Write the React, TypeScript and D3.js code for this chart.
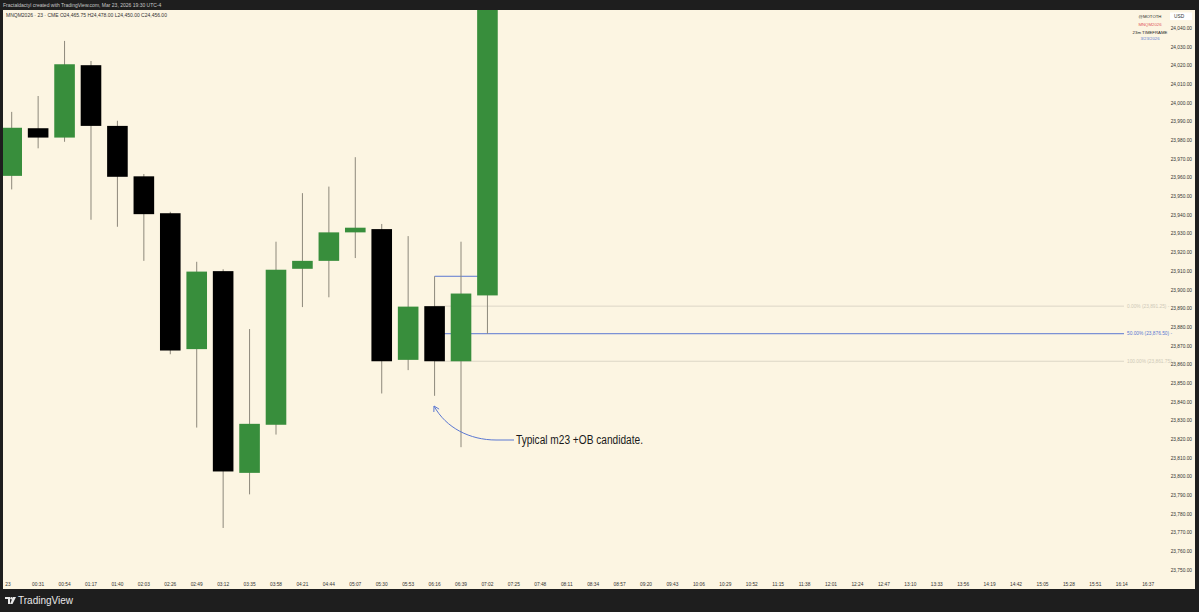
import React from "react";
import * as d3 from "d3";

const W = 1199;
const H = 612;

// Candle data (23m NQ futures)
const timeLabels = [
  "23", "00:31", "00:54", "01:17", "01:40", "02:03", "02:26", "02:49", "03:12", "03:35",
  "03:58", "04:21", "04:44", "05:07", "05:30", "05:53", "06:16", "06:39", "07:02", "07:25",
  "07:48", "08:11", "08:34", "08:57", "09:20", "09:43", "10:06", "10:29", "10:52", "11:15",
  "11:38", "12:01", "12:24", "12:47", "13:10", "13:33", "13:56", "14:19", "14:42", "15:05",
  "15:28", "15:51", "16:14", "16:37",
];
const opens = [
  23961.0, 23986.5, 23981.5, 24020.25, 23987.75, 23960.75, 23941.0, 23868.25, 23910.0, 23802.0,
  23827.75, 23911.25, 23915.5, 23930.75, 23932.5, 23862.5, 23891.25, 23861.75, 23897.0,
];
const highs = [
  23995.25, 24003.75, 24033.25, 24022.5, 23990.5, 23962.0, 23941.75, 23915.0, 23911.0, 23879.0,
  23925.75, 23951.75, 23955.25, 23971.0, 23935.25, 23928.75, 23907.25, 23925.75, 24120.0,
];
const lows = [
  23953.75, 23975.75, 23979.25, 23937.5, 23933.75, 23915.5, 23865.5, 23826.25, 23772.5, 23790.5,
  23822.5, 23890.75, 23896.0, 23917.0, 23844.5, 23857.0, 23843.25, 23815.75, 23876.5,
];
const closes = [
  23986.75, 23981.5, 24020.75, 23987.75, 23960.5, 23940.5, 23867.5, 23909.75, 23802.75, 23828.25,
  23910.75, 23915.5, 23930.75, 23933.25, 23861.75, 23891.0, 23861.75, 23898.0, 24105.0,
];

const priceTicks = [
  23750, 23760, 23770, 23780, 23790, 23800, 23810, 23820, 23830, 23840, 23850, 23860, 23870,
  23880, 23890, 23900, 23910, 23920, 23930, 23940, 23950, 23960, 23970, 23980, 23990, 24000,
  24010, 24020, 24030, 24040,
];

const fibLabels = ["0.00%", "50.00%", "100.00%"];
const fibPrices = [23891.25, 23876.5, 23861.75];
const boxTopPrice = 23907.25;

const legendLines = ["@MOTOTH", "MNQM2026", "23m TIMEFRAME", "3/23/2026"];

export default function App() {
  const paneL = 3, paneR = 1195, paneT = 10, paneB = 589;
  const y = d3.scaleLinear().domain([23750, 24040]).range([570, 28.3]);
  const x = d3.scaleLinear().domain([0, 43]).range([11.7, 1148.2]);
  const bw = 20.6;
  const fmt = d3.format(",.2f");

  const green = "#388e3c";
  const black = "#000000";
  const wick = "#8d887b";
  const blue = "#5b78d2";
  const bg = "#fcf5e2";
  const frame = "#1e1e1e";
  const font = "'Liberation Sans', Arial, sans-serif";

  const fibStartX = x(16);
  const fibEndX = 1124;

  // annotation arrow
  const tipX = 434, tipY = 406;
  const arrowPath = `M 514 440 L 496 440 C 470 440, 446 428, ${tipX} ${tipY}`;
  const dirAngle = Math.atan2(tipY - 428, tipX - 446);
  const armLen = 6;
  const arm = (s: number) => {
    const a = dirAngle + Math.PI + s * (Math.PI / 6);
    return `${tipX + armLen * Math.cos(a)},${tipY + armLen * Math.sin(a)}`;
  };

  return (
    <svg width={W} height={H} style={{ position: "absolute", left: 0, top: 0, display: "block" }}>
      <defs>
        <clipPath id="pane">
          <rect x={paneL} y={paneT} width={1165 - paneL} height={paneB - paneT} />
        </clipPath>
      </defs>
      <rect x={0} y={0} width={W} height={H} fill={frame} />
      <rect x={paneL} y={paneT} width={paneR - paneL} height={paneB - paneT} fill={bg} />

      {/* top credit */}
      <text x={3} y={7} fontSize={5} fill="#c8c8c8" fontFamily={font}>
        Fractaldactyl created with TradingView.com, Mar 23, 2026 19:30 UTC-4
      </text>
      <text x={6} y={17} fontSize={5} fill="#333" fontFamily={font}>
        MNQM2026 · 23 · CME  O24,465.75  H24,478.00  L24,450.00  C24,456.00
      </text>

      <g clipPath="url(#pane)">
        {/* fib levels */}
        {fibPrices.map((p, i) => (
          <line
            key={"f" + i}
            x1={fibStartX}
            x2={fibEndX}
            y1={y(p)}
            y2={y(p)}
            stroke={i === 1 ? blue : "#dcd6c6"}
            strokeWidth={1}
          />
        ))}
        <line x1={x(16)} x2={x(18)} y1={y(boxTopPrice)} y2={y(boxTopPrice)} stroke={blue} strokeWidth={1} />

        {/* candles */}
        {opens.map((o, i) => {
          const c = closes[i];
          const up = c >= o;
          const cx = x(i);
          const top = y(Math.max(o, c));
          const bot = y(Math.min(o, c));
          return (
            <g key={i}>
              <line x1={cx} x2={cx} y1={y(highs[i])} y2={y(lows[i])} stroke={wick} strokeWidth={1} />
              <rect
                x={cx - bw / 2}
                y={top}
                width={bw}
                height={Math.max(1, bot - top)}
                fill={up ? green : black}
              />
            </g>
          );
        })}
      </g>

      {/* fib labels */}
      {fibPrices.map((p, i) => (
        <text
          key={"fl" + i}
          x={1127}
          y={y(p) + 1.7}
          fontSize={4.8}
          fill={i === 1 ? blue : "#cfc9b8"}
          fontFamily={font}
        >
          {`${fibLabels[i]} (${fmt(p)}) -`}
        </text>
      ))}

      {/* annotation */}
      <path d={arrowPath} fill="none" stroke={blue} strokeWidth={1} />
      <polyline points={`${arm(1)} ${tipX},${tipY} ${arm(-1)}`} fill="none" stroke={blue} strokeWidth={1} />
      <text
        x={516}
        y={444}
        fontSize={12}
        fill="#1a1a1a"
        fontFamily="'Liberation Sans Narrow', 'Liberation Sans', Arial, sans-serif"
        textLength={127}
        lengthAdjust="spacingAndGlyphs"
      >
        Typical m23 +OB candidate.
      </text>

      {/* price axis */}
      {priceTicks.map((t) => (
        <text key={t} x={1192} y={y(t) + 1.7} fontSize={4.8} textAnchor="end" fill="#333" fontFamily={font}>
          {fmt(t)}
        </text>
      ))}
      <rect x={1170} y={12.5} width={22} height={7.5} fill="#ffffff" />
      <text x={1174} y={18} fontSize={4.8} fill="#333" fontFamily={font}>USD</text>

      {/* legend */}
      {legendLines.map((l, i) => (
        <text
          key={l}
          x={1150}
          y={[17.5, 25.5, 34, 40][i]}
          fontSize={4.3}
          textAnchor="middle"
          fill={["#222", "#e05555", "#222", "#5b78d2"][i]}
          fontFamily={font}
        >
          {l}
        </text>
      ))}

      {/* time axis */}
      {timeLabels.map((t, i) => (
        <text
          key={t + i}
          x={i === 0 ? 8 : x(i)}
          y={586}
          fontSize={4.8}
          textAnchor="middle"
          fill="#333"
          fontFamily={font}
        >
          {t}
        </text>
      ))}

      {/* TradingView logo */}
      <g transform="translate(5,597)" fill="#e8e8e8">
        <path d="M0 0 H5 V7 H3 V2 H0 Z" />
        <circle cx={6.5} cy={1.2} r={1.2} />
        <path d="M8 0 H11 L7.5 7 H5 Z" />
        <text x={13} y={7} fontSize={10} fontFamily={font}>TradingView</text>
      </g>
    </svg>
  );
}
